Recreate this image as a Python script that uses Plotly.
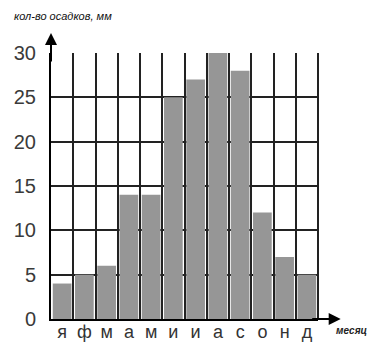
import plotly.graph_objects as go

months = ["я", "ф", "м", "а", "м", "и", "и", "а", "с", "о", "н", "д"]
precip = [4, 5, 6, 14, 14, 25, 27, 30, 28, 12, 7, 5]
y_ticks = [0, 5, 10, 15, 20, 25, 30]

x_pos = list(range(len(months)))

fig = go.Figure()
fig.add_trace(go.Bar(x=x_pos, y=precip, marker=dict(color="#969696", line=dict(width=0)),
                     width=0.84, hoverinfo="skip"))

fig.update_layout(
    width=376, height=342,
    margin=dict(l=43, r=66, t=45, b=31, autoexpand=False),
    plot_bgcolor="white", paper_bgcolor="white",
    showlegend=False,
    font=dict(family="Liberation Sans, Arial, sans-serif", color="#3a3a3a"),
    xaxis=dict(
        range=[-0.5, len(months) - 0.5],
        tickvals=x_pos, ticktext=months,
        showgrid=False, zeroline=False, automargin=False,
        showline=True, linecolor="black", linewidth=2,
        ticks="", tickfont=dict(size=18, color="#333"),
        ticklabelstandoff=-5,
        minor=dict(tick0=-0.5, dtick=1, showgrid=True, gridcolor="#222", gridwidth=2, ticks=""),
    ),
    yaxis=dict(
        range=[0, 30],
        tickvals=y_ticks,
        showgrid=True, gridcolor="#222", gridwidth=2,
        zeroline=False, automargin=False,
        showline=True, linecolor="black", linewidth=2,
        ticks="", tickfont=dict(size=20, color="#3a3a3a"),
        ticklabelstandoff=9,
    ),
)

# right frame line
fig.add_shape(type="line", xref="paper", yref="paper", x0=1, x1=1, y0=0, y1=1,
              line=dict(color="#222", width=2), layer="below")

# y-axis arrow
fig.add_annotation(xref="paper", yref="paper", x=0, y=1.075, ax=0, ay=30,
                   showarrow=True, arrowhead=2, arrowsize=1.2, arrowwidth=2, arrowcolor="black", text="")
# x-axis arrow
fig.add_annotation(xref="paper", yref="paper", x=1.085, y=0, ax=-30, ay=0,
                   showarrow=True, arrowhead=2, arrowsize=1.2, arrowwidth=2, arrowcolor="black", text="")

fig.add_annotation(xref="paper", yref="paper", x=-0.145, y=1.11, xanchor="left", yanchor="bottom",
                   text="<i>кол-во осадков, мм</i>", showarrow=False,
                   font=dict(size=11, color="#111"))
fig.add_annotation(xref="paper", yref="paper", x=1.06, y=-0.015, xanchor="left", yanchor="top",
                   text="<b><i>месяц</i></b>", showarrow=False,
                   font=dict(size=10, color="#222"))

fig.write_html("out.html")
